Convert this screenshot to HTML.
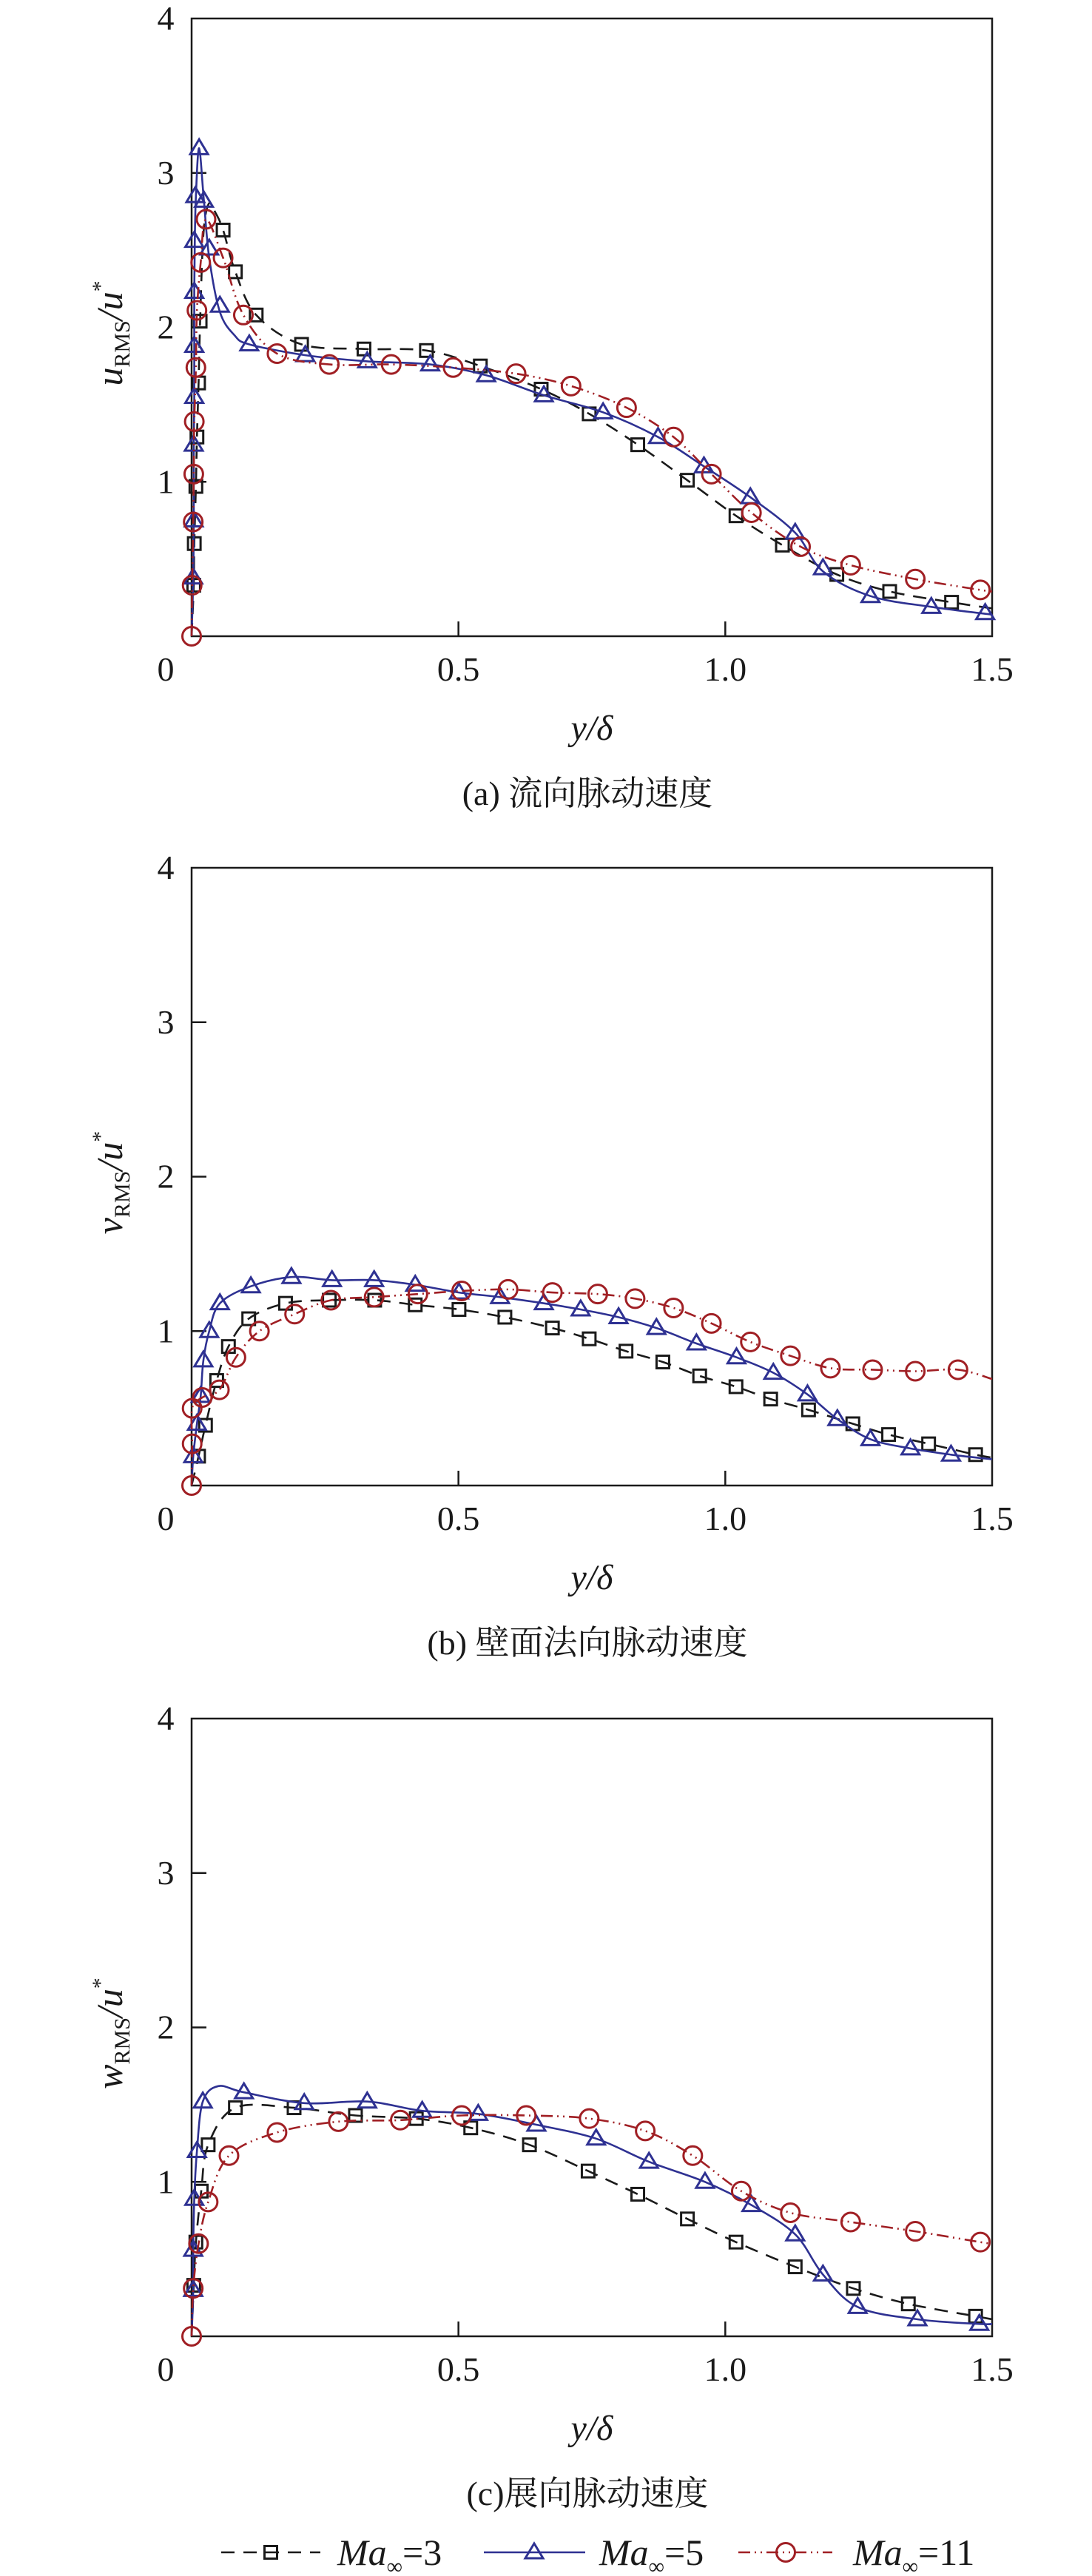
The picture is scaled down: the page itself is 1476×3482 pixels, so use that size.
<!DOCTYPE html>
<html><head><meta charset="utf-8"><style>
html,body{margin:0;padding:0;background:#fff;}
svg{display:block;}
svg text{font-family:"Liberation Serif","Noto Serif CJK SC",serif;}
</style></head><body>
<svg id="s" width="1476" height="3482" viewBox="0 0 1476 3482" xmlns="http://www.w3.org/2000/svg"></svg>
<script>
const NS="http://www.w3.org/2000/svg";
const S=document.getElementById('s');
const L=259,R=1341,W=R-L,H=835;
const BLUE="#2e3192",RED="#a01f24",BLK="#1a1a1a";
function el(t,a,p){const e=document.createElementNS(NS,t);for(const k in a)e.setAttribute(k,a[k]);(p||S).appendChild(e);return e;}
function cr(pts){let d="M"+pts[0][0].toFixed(1)+","+pts[0][1].toFixed(1);
 for(let i=0;i<pts.length-1;i++){const p0=pts[Math.max(i-1,0)],p1=pts[i],p2=pts[i+1],p3=pts[Math.min(i+2,pts.length-1)];
 const c1=[p1[0]+(p2[0]-p0[0])/6,p1[1]+(p2[1]-p0[1])/6],c2=[p2[0]-(p3[0]-p1[0])/6,p2[1]-(p3[1]-p1[1])/6];
 d+=" C"+c1[0].toFixed(1)+","+c1[1].toFixed(1)+" "+c2[0].toFixed(1)+","+c2[1].toFixed(1)+" "+p2[0].toFixed(1)+","+p2[1].toFixed(1);}
 return d;}
function marker(type,x,y,col){
 if(type=="sq")el('rect',{x:x-8.5,y:y-8.5,width:17,height:17,fill:'none',stroke:col,'stroke-width':3});
 else if(type=="tri")el('polygon',{points:`${x},${y-12} ${x-12},${y+8} ${x+12},${y+8}`,fill:'none',stroke:col,'stroke-width':3});
 else el('circle',{cx:x,cy:y,r:12.5,fill:'none',stroke:col,'stroke-width':3});
}
const styles={
 sq:{col:BLK,dash:"18,12"},
 tri:{col:BLUE,dash:null},
 ci:{col:RED,dash:"16,6,2,6,2,6"}
};
function series(bot,type,line,marks){
 const st=styles[type];
 const mp=p=>[L+p[0]/1.5*W,bot-p[1]/4*H];
 const a={d:cr(line.map(mp)),fill:'none',stroke:st.col,'stroke-width':2.6};
 if(st.dash)a['stroke-dasharray']=st.dash;
 el('path',a);
 marks.forEach(p=>{const q=mp(p);marker(type,q[0],q[1],st.col);});
}
function panel(top,ylab,caption){
 const bot=top+H;
 el('rect',{x:L,y:top,width:W,height:H,fill:'none',stroke:BLK,'stroke-width':2.5});
 for(let i=1;i<=3;i++){const y=bot-i/4*H;el('line',{x1:L,y1:y,x2:L+20,y2:y,stroke:BLK,'stroke-width':2.5});}
 [0.5,1.0].forEach(v=>{const x=L+v/1.5*W;el('line',{x1:x,y1:bot,x2:x,y2:bot-20,stroke:BLK,'stroke-width':2.5});});
 for(let i=1;i<=4;i++){const t=el('text',{x:224,y:bot-i/4*H+15,'font-size':46,'text-anchor':'middle',fill:BLK});t.textContent=i;}
 [["0",0],["0.5",0.5],["1.0",1.0],["1.5",1.5]].forEach(([s,v])=>{const t=el('text',{x:(v==0?224:L+v/1.5*W),y:bot+60,'font-size':46,'text-anchor':'middle',fill:BLK});t.textContent=s;});
 const xt=el('text',{x:800,y:bot+140,'font-size':48,'text-anchor':'middle','font-style':'italic',fill:BLK});xt.textContent="y/δ";
 const cap=el('text',{x:794,y:bot+228,'font-size':46,'text-anchor':'middle',fill:BLK});cap.textContent=caption;
 const g=el('g',{transform:`translate(165,${top+H/2+8}) rotate(-90)`});
 const yl=el('text',{x:0,y:0,'font-size':50,'text-anchor':'middle',fill:BLK},g);
 yl.innerHTML=`<tspan font-style="italic">${ylab}</tspan><tspan font-size="30" dy="10">RMS</tspan><tspan dy="-10" font-style="italic">/u</tspan><tspan font-size="30" dy="-20">*</tspan>`;
 return bot;
}
let b=panel(25,"u","(a) 流向脉动速度");
series(b,'sq',[[0,0],[0.004,0.33],[0.005,0.6],[0.008,0.97],[0.010,1.29],[0.013,1.64],[0.016,2.04],[0.022,2.6],[0.032,2.8],[0.045,2.74],[0.059,2.63],[0.082,2.36],[0.121,2.08],[0.206,1.89],[0.323,1.86],[0.44,1.85],[0.541,1.75],[0.655,1.6],[0.745,1.44],[0.836,1.24],[0.929,1.01],[1.02,0.78],[1.107,0.59],[1.209,0.4],[1.308,0.29],[1.424,0.22],[1.5,0.18]],
 [[0.004,0.33],[0.005,0.6],[0.008,0.97],[0.010,1.29],[0.013,1.64],[0.016,2.04],[0.059,2.63],[0.082,2.36],[0.121,2.08],[0.206,1.89],[0.323,1.86],[0.44,1.85],[0.541,1.75],[0.655,1.6],[0.745,1.44],[0.836,1.24],[0.929,1.01],[1.02,0.78],[1.107,0.59],[1.209,0.4],[1.308,0.29],[1.424,0.22]]);
series(b,'tri',[[0,0],[0.003,0.38],[0.004,0.75],[0.004,1.24],[0.005,1.55],[0.005,1.88],[0.005,2.23],[0.006,2.56],[0.008,2.85],[0.014,3.16],[0.023,2.82],[0.033,2.45],[0.053,2.1],[0.08,1.95],[0.108,1.89],[0.213,1.82],[0.329,1.78],[0.447,1.76],[0.552,1.69],[0.66,1.56],[0.771,1.45],[0.874,1.29],[0.96,1.1],[1.047,0.9],[1.131,0.67],[1.183,0.42],[1.272,0.26],[1.386,0.19],[1.5,0.14]],
 [[0.003,0.38],[0.004,0.75],[0.004,1.24],[0.005,1.55],[0.005,1.88],[0.005,2.23],[0.005,2.56],[0.007,2.85],[0.014,3.16],[0.023,2.82],[0.033,2.51],[0.053,2.14],[0.108,1.89],[0.213,1.82],[0.329,1.78],[0.447,1.76],[0.552,1.69],[0.66,1.56],[0.771,1.45],[0.874,1.29],[0.96,1.1],[1.047,0.9],[1.131,0.67],[1.183,0.44],[1.272,0.26],[1.386,0.19],[1.487,0.15]]);
const ca=[[0,0],[0.001,0.33],[0.003,0.74],[0.004,1.05],[0.005,1.39],[0.008,1.74],[0.010,2.11],[0.017,2.42],[0.027,2.7],[0.059,2.45],[0.097,2.08],[0.16,1.83],[0.258,1.76],[0.374,1.76],[0.49,1.74],[0.608,1.7],[0.711,1.62],[0.815,1.48],[0.903,1.29],[0.974,1.05],[1.049,0.8],[1.141,0.58],[1.235,0.46],[1.356,0.37],[1.478,0.3]];
series(b,'ci',ca.concat([[1.5,0.29]]),ca);
b=panel(1173,"v","(b) 壁面法向脉动速度");
const sb=[[0.013,0.19],[0.026,0.39],[0.047,0.68],[0.069,0.9],[0.107,1.08],[0.176,1.18],[0.258,1.2],[0.343,1.2],[0.419,1.17],[0.501,1.14],[0.587,1.09],[0.676,1.02],[0.745,0.95],[0.814,0.87],[0.883,0.8],[0.952,0.71],[1.02,0.64],[1.085,0.56],[1.156,0.49],[1.239,0.4],[1.306,0.33],[1.381,0.27],[1.469,0.2]];
series(b,'sq',[[0,0]].concat(sb,[[1.5,0.18]]),sb);
const tb=[[0.003,0.19],[0.010,0.4],[0.017,0.58],[0.022,0.81],[0.033,1.0],[0.053,1.18],[0.111,1.29],[0.187,1.35],[0.263,1.33],[0.342,1.33],[0.419,1.3],[0.501,1.25],[0.578,1.22],[0.66,1.18],[0.729,1.14],[0.8,1.09],[0.871,1.02],[0.946,0.92],[1.021,0.83],[1.09,0.73],[1.154,0.59],[1.21,0.43],[1.272,0.3],[1.347,0.24],[1.423,0.2]];
series(b,'tri',[[0,0]].concat(tb,[[1.5,0.17]]),tb);
const cb=[[0,0],[0.001,0.27],[0.001,0.5],[0.02,0.57],[0.052,0.62],[0.083,0.83],[0.127,1.0],[0.193,1.11],[0.261,1.2],[0.342,1.22],[0.424,1.24],[0.506,1.26],[0.593,1.27],[0.676,1.25],[0.761,1.24],[0.831,1.21],[0.903,1.15],[0.974,1.05],[1.047,0.93],[1.122,0.84],[1.197,0.76],[1.276,0.75],[1.356,0.74],[1.436,0.75]];
series(b,'ci',cb.concat([[1.5,0.69]]),cb);
b=panel(2323,"w","(c)展向脉动速度");
const sc=[[0.004,0.33],[0.008,0.61],[0.018,0.94],[0.031,1.24],[0.082,1.48],[0.192,1.48],[0.307,1.43],[0.421,1.41],[0.523,1.35],[0.633,1.24],[0.743,1.07],[0.836,0.92],[0.929,0.76],[1.02,0.61],[1.131,0.45],[1.24,0.31],[1.343,0.21],[1.469,0.13]];
series(b,'sq',[[0,0]].concat(sc,[[1.5,0.11]]),sc);
const tc=[[0.003,0.3],[0.003,0.56],[0.005,0.89],[0.010,1.2],[0.021,1.52],[0.05,1.62],[0.098,1.58],[0.211,1.51],[0.329,1.52],[0.432,1.46],[0.537,1.44],[0.646,1.37],[0.758,1.28],[0.857,1.13],[0.962,1.0],[1.049,0.85],[1.131,0.66],[1.183,0.4],[1.248,0.19],[1.36,0.11],[1.476,0.08]];
series(b,'tri',[[0,0]].concat(tc,[[1.5,0.08]]),tc.filter(p=>p[0]!=0.05));
const cc=[[0,0],[0.003,0.31],[0.013,0.6],[0.031,0.87],[0.07,1.17],[0.16,1.32],[0.275,1.39],[0.391,1.4],[0.506,1.43],[0.627,1.43],[0.745,1.41],[0.85,1.33],[0.939,1.17],[1.03,0.94],[1.122,0.8],[1.235,0.74],[1.356,0.68],[1.478,0.61]];
series(b,'ci',cc.concat([[1.5,0.6]]),cc);
const ly=3450;
el('line',{x1:299,y1:ly,x2:433,y2:ly,stroke:BLK,'stroke-width':2.6,'stroke-dasharray':'18,12'});marker('sq',366,ly,BLK);
el('line',{x1:654,y1:ly,x2:791,y2:ly,stroke:BLUE,'stroke-width':2.6});marker('tri',722,ly,BLUE);
el('line',{x1:998,y1:ly,x2:1125,y2:ly,stroke:RED,'stroke-width':2.6,'stroke-dasharray':'16,6,2,6,2,6'});marker('ci',1062,ly,RED);
[[456,"3"],[810,"5"],[1153,"11"]].forEach(([x,v])=>{const t=el('text',{x:x,y:ly+17,'font-size':50,fill:BLK});
 t.innerHTML=`<tspan font-style="italic">Ma</tspan><tspan font-size="30" dy="12">∞</tspan><tspan dy="-12">=${v}</tspan>`;});
</script>
</body></html>
